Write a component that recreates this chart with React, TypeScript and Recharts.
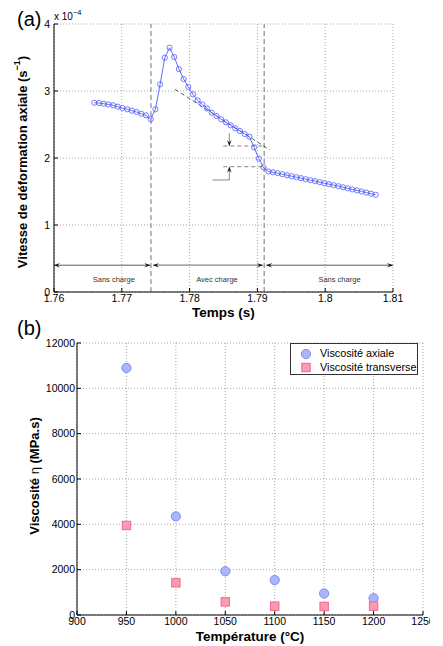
import React from 'react';
import {
  LineChart, Line, XAxis, YAxis, CartesianGrid, ReferenceLine, ReferenceDot,
  ScatterChart, Scatter, Legend,
} from 'recharts';

const FONT = '"Liberation Sans", Arial, Helvetica, sans-serif';
const BLUE = '#4f5cff';

// ---------- (a) strain-rate vs time ----------
const timeS = [
  1.76594, 1.76664, 1.76733, 1.76802, 1.76872, 1.76941, 1.7701, 1.7708, 1.77149, 1.77218,
  1.77288, 1.77357, 1.77426, 1.77496, 1.77565, 1.77634, 1.77704, 1.77773, 1.77842, 1.77912,
  1.77981, 1.7805, 1.78119, 1.78189, 1.78258, 1.78327, 1.78397, 1.78466, 1.78535, 1.78605,
  1.78674, 1.78743, 1.78813, 1.78882, 1.78951, 1.79021, 1.7909, 1.79161, 1.7923, 1.79299,
  1.79367, 1.79437, 1.79506, 1.79574, 1.79643, 1.79712, 1.7978, 1.7985, 1.79919, 1.79987,
  1.80056, 1.80125, 1.80193, 1.80263, 1.80332, 1.804, 1.80469, 1.80538, 1.80606, 1.80676,
  1.80745,
];
// axial strain rate, units of 1e-4 s^-1
const strainRate = [
  2.825, 2.82, 2.81, 2.8, 2.787, 2.766, 2.746, 2.727, 2.706, 2.687,
  2.66, 2.637, 2.58, 2.727, 3.1, 3.497, 3.646, 3.507, 3.328, 3.179,
  3.06, 2.95, 2.86, 2.8, 2.74, 2.676, 2.627, 2.578, 2.533, 2.488,
  2.443, 2.403, 2.358, 2.318, 2.16, 1.99, 1.861, 1.799, 1.787, 1.773,
  1.758, 1.743, 1.728, 1.713, 1.699, 1.684, 1.669, 1.654, 1.639, 1.624,
  1.609, 1.594, 1.579, 1.563, 1.548, 1.531, 1.516, 1.5, 1.484, 1.467,
  1.451,
];
const xTicksA = [1.76, 1.77, 1.78, 1.79, 1.8, 1.81];
const yTicksA = [0, 1, 2, 3, 4];
const loadSwitchTimes = [1.7743, 1.791];
const phaseLabels = ['Sans charge', 'Avec charge', 'Sans charge'];
const phaseLabelTimes = [1.76882, 1.78404, 1.80211];
const phaseArrowStarts = [1.76, 1.7746, 1.7913];
const phaseArrowEnds = [1.7742, 1.7908, 1.81];
const phaseArrowLevel = 0.4;
const phaseLabelLevel = 0.18;

// ---------- (b) viscosity vs temperature ----------
const temperatures = [950, 1000, 1050, 1100, 1150, 1200];
const viscAxial = [10900, 4350, 1930, 1540, 950, 740];
const viscTrans = [3950, 1420, 580, 390, 375, 390];
const xTicksB = [900, 950, 1000, 1050, 1100, 1150, 1200, 1250];
const yTicksB = [0, 2000, 4000, 6000, 8000, 10000, 12000];

const rateData = timeS.map((t, i) => ({ t, v: strainRate[i] }));
const axialData = temperatures.map((T, i) => ({ T, eta: viscAxial[i] }));
const transData = temperatures.map((T, i) => ({ T, eta: viscTrans[i] }));

const tickStyle = { fill: '#000', fontSize: 10.5, fontFamily: FONT };

const headPath = (tx: number, ty: number, fx: number, fy: number, len = 6, half = 2.3) => {
  const dx = tx - fx, dy = ty - fy;
  const L = Math.hypot(dx, dy) || 1;
  const ux = dx / L, uy = dy / L, nx = -uy, ny = ux;
  const bx = tx - ux * len, by = ty - uy * len;
  const mx = tx - ux * len * 0.6, my = ty - uy * len * 0.6;
  return `M${tx},${ty}L${bx + nx * half},${by + ny * half}L${mx},${my}L${bx - nx * half},${by - ny * half}Z`;
};

const arrowShape = (both: boolean, lineColor: string, width = 0.8) => (p: any) => {
  const { x1, y1, x2, y2 } = p;
  if (![x1, y1, x2, y2].every((n) => typeof n === 'number' && isFinite(n))) return <g />;
  return (
    <g>
      <line x1={x1} y1={y1} x2={x2} y2={y2} stroke={lineColor} strokeWidth={width} />
      <path d={headPath(x2, y2, x1, y1)} fill="#111" />
      {both && <path d={headPath(x1, y1, x2, y2)} fill="#111" />}
    </g>
  );
};

const yLabelA = (props: any) => {
  const vb = props.viewBox || { x: 0, y: 16, width: 46, height: 268 };
  const cx = vb.x + 14;
  const cy = vb.y + vb.height / 2 + 4;
  return (
    <text x={cx} y={cy} transform={`rotate(-90 ${cx} ${cy})`} textAnchor="middle"
      dominantBaseline="central" fontFamily={FONT} fontWeight="bold" fontSize={13} fill="#000">
      Vitesse de déformation axiale (s<tspan dy={-5} fontSize={9}>−1</tspan><tspan dy={5}>)</tspan>
    </text>
  );
};

const yLabelB = (props: any) => {
  const vb = props.viewBox || { x: 0, y: 23, width: 69, height: 272 };
  const cx = vb.x + 26;
  const cy = vb.y + vb.height / 2 - 3;
  return (
    <text x={cx} y={cy} transform={`rotate(-90 ${cx} ${cy})`} textAnchor="middle"
      dominantBaseline="central" fontFamily={FONT} fontWeight="bold" fontSize={13} fill="#000">
      Viscosité <tspan fontWeight="normal">η</tspan> (MPa.s)
    </text>
  );
};

const circleShape = (p: any) => (
  <circle cx={p.cx} cy={p.cy} r={4.6} fill="#a9b6fb" stroke="#7d8cf2" strokeWidth={1} />
);
const squareShape = (p: any) => (
  <rect x={p.cx - 4.2} y={p.cy - 4.2} width={8.4} height={8.4} fill="#fb9bb1" stroke="#f0688a" strokeWidth={1} />
);

const LegendBox = () => (
  <div style={{
    width: 128, height: 32, boxSizing: 'border-box', border: '1px solid #333', background: '#fff',
    fontFamily: FONT, fontSize: 10.8, color: '#000', position: 'relative',
  }}>
    <svg width={14} height={30} style={{ position: 'absolute', left: 9, top: 0 }}>
      <circle cx={6} cy={10} r={4.6} fill="#a9b6fb" stroke="#7d8cf2" strokeWidth={1} />
      <rect x={1.8} y={19.3} width={8.4} height={8.4} fill="#fb9bb1" stroke="#f0688a" strokeWidth={1} />
    </svg>
    <div style={{ position: 'absolute', left: 29, top: 3, lineHeight: '13px', whiteSpace: 'nowrap' }}>Viscosité axiale</div>
    <div style={{ position: 'absolute', left: 29, top: 17, lineHeight: '13px', whiteSpace: 'nowrap' }}>Viscosité transverse</div>
  </div>
);

export default function App() {
  return (
    <div style={{ position: 'relative', width: 427, fontFamily: FONT }}>
      <div style={{ position: 'absolute', left: 9, top: 1, fontSize: 20, lineHeight: 1 }}>(a)</div>
      <div style={{ position: 'absolute', left: 46, top: 3.5, fontSize: 10, lineHeight: 1, whiteSpace: 'nowrap' }}>
        x 10<span style={{ fontSize: 7.5, position: 'relative', top: -5 }}>−4</span>
      </div>
      <LineChart width={427} height={312} data={rateData} margin={{ top: 16, right: 42, left: 0, bottom: 0 }}>
        <CartesianGrid stroke="#a8a8a8" strokeDasharray="1 2" />
        <XAxis dataKey="t" type="number" domain={[1.76, 1.81]} ticks={xTicksA} interval={0}
          allowDataOverflow height={28} tickSize={-4} tickMargin={7} stroke="#000"
          tick={tickStyle} tickFormatter={(v: number) => String(v)}
          label={{ value: 'Temps (s)', position: 'insideBottom', offset: 3, fontWeight: 'bold', fontSize: 13.5, fill: '#000', fontFamily: FONT }} />
        <YAxis type="number" domain={[0, 4]} ticks={yTicksA} interval={0} allowDataOverflow
          width={46} tickSize={-4} tickMargin={8} stroke="#000" tick={tickStyle} label={yLabelA} />
        <XAxis xAxisId="top" orientation="top" type="number" domain={[1.76, 1.81]} ticks={xTicksA}
          interval={0} allowDataOverflow height={0} tick={false} tickSize={-4} stroke="#000" />
        <YAxis yAxisId="right" orientation="right" type="number" domain={[0, 4]} ticks={yTicksA}
          interval={0} allowDataOverflow width={0} tick={false} tickSize={-4} stroke="#000" />
        {loadSwitchTimes.map((t, i) => (
          <ReferenceLine key={`sw${i}`} x={t} stroke="#8a8a8a" strokeDasharray="5 3" strokeWidth={1.2} ifOverflow="visible" />
        ))}
        {phaseArrowStarts.map((t0, i) => (
          <ReferenceLine key={`ph${i}`} ifOverflow="visible"
            segment={[{ x: t0, y: phaseArrowLevel }, { x: phaseArrowEnds[i], y: phaseArrowLevel }]}
            shape={arrowShape(true, i === 1 ? '#888' : '#333', i === 1 ? 1.2 : 0.8)} />
        ))}
        {phaseLabels.map((lab, i) => (
          <ReferenceDot key={`pl${i}`} x={phaseLabelTimes[i]} y={phaseLabelLevel} r={0} ifOverflow="visible"
            shape={(p: any) => (
              <text x={p.cx} y={p.cy} textAnchor="middle" dominantBaseline="central"
                fontFamily={FONT} fontSize={7.5} fill="#333">{lab}</text>
            )} />
        ))}
        <ReferenceLine ifOverflow="visible" segment={[{ x: 1.77785, y: 3.025 }, { x: 1.79186, y: 2.119 }]}
          stroke="#333" strokeDasharray="4 3" strokeWidth={0.8} />
        <ReferenceLine ifOverflow="visible" segment={[{ x: 1.78497, y: 2.179 }, { x: 1.79112, y: 2.179 }]}
          stroke="#666" strokeDasharray="4 3" strokeWidth={0.8} />
        <ReferenceLine ifOverflow="visible" segment={[{ x: 1.78497, y: 1.87 }, { x: 1.791, y: 1.87 }]}
          stroke="#666" strokeDasharray="4 3" strokeWidth={0.8} />
        <ReferenceLine ifOverflow="visible" segment={[{ x: 1.78586, y: 2.369 }, { x: 1.78586, y: 2.179 }]}
          shape={arrowShape(false, '#888', 1)} />
        <ReferenceLine ifOverflow="visible" segment={[{ x: 1.78586, y: 1.672 }, { x: 1.78586, y: 1.87 }]}
          shape={arrowShape(false, '#888', 1)} />
        <ReferenceLine ifOverflow="visible" segment={[{ x: 1.78341, y: 1.672 }, { x: 1.78586, y: 1.672 }]}
          stroke="#888" strokeWidth={1} />
        <Line dataKey="v" stroke={BLUE} strokeWidth={0.9} isAnimationActive={false}
          dot={{ r: 2.6, stroke: BLUE, strokeWidth: 0.8, fill: 'none' }} activeDot={false} />
      </LineChart>

      <div style={{ position: 'absolute', left: 9, top: 310, fontSize: 20, lineHeight: 1 }}>(b)</div>
      <ScatterChart width={422} height={326} margin={{ top: 23, right: 7, left: 0, bottom: 0 }}>
        <CartesianGrid stroke="#a8a8a8" strokeDasharray="1 2" />
        <XAxis dataKey="T" type="number" domain={[900, 1250]} ticks={xTicksB} interval={0}
          allowDataOverflow height={31} tickSize={-4} tickMargin={7} stroke="#000" tick={tickStyle}
          label={{ value: 'Température (°C)', position: 'insideBottom', offset: 5, fontWeight: 'bold', fontSize: 13.5, fill: '#000', fontFamily: FONT }} />
        <YAxis dataKey="eta" type="number" domain={[0, 12000]} ticks={yTicksB} interval={0}
          allowDataOverflow width={69} tickSize={-4} tickMargin={6} stroke="#000" tick={tickStyle} label={yLabelB} />
        <XAxis xAxisId="top" orientation="top" type="number" domain={[900, 1250]} ticks={xTicksB}
          interval={0} allowDataOverflow height={0} tick={false} tickSize={-4} stroke="#000" />
        <YAxis yAxisId="right" orientation="right" type="number" domain={[0, 12000]} ticks={yTicksB}
          interval={0} allowDataOverflow width={0} tick={false} tickSize={-4} stroke="#000" />
        <Scatter name="Viscosité axiale" data={axialData} shape={circleShape} isAnimationActive={false} />
        <Scatter name="Viscosité transverse" data={transData} shape={squareShape} isAnimationActive={false} />
        <Legend layout="horizontal" verticalAlign="middle" align="center"
          wrapperStyle={{ position: 'absolute', left: 282, top: 23, width: 128, height: 32 }}
          content={() => <LegendBox />} />
      </ScatterChart>
    </div>
  );
}
